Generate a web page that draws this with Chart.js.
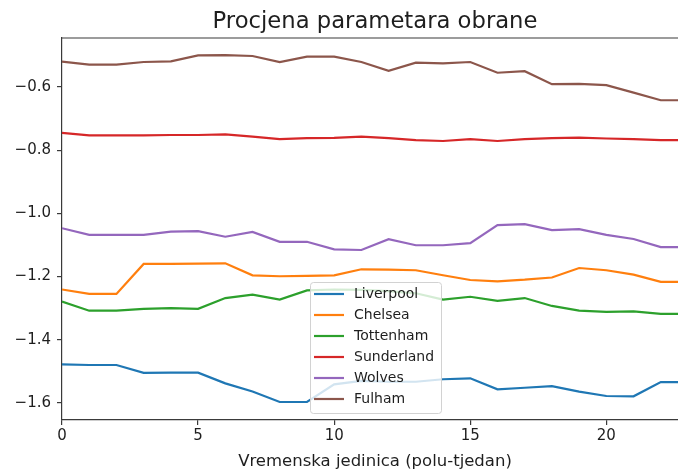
<!DOCTYPE html>
<html>
<head>
<meta charset="utf-8">
<script src="https://cdn.jsdelivr.net/npm/chart.js@4"></script>
<style>
  html, body { margin: 0; padding: 0; background: #fff; overflow: hidden; }
  #wrap { width: 678px; height: 474px; overflow: hidden; }
</style>
</head>
<body>
<div id="wrap"><canvas id="c" width="688" height="474"></canvas></div>
<script>
const timeUnits = [0,1,2,3,4,5,6,7,8,9,10,11,12,13,14,15,16,17,18,19,20,21,22,23];
const teamNames = ["Liverpool","Chelsea","Tottenham","Sunderland","Wolves","Fulham"];
const liverpool = [-1.478,-1.480,-1.480,-1.505,-1.504,-1.504,-1.538,-1.564,-1.597,-1.597,-1.541,-1.530,-1.533,-1.533,-1.525,-1.522,-1.557,-1.552,-1.547,-1.564,-1.578,-1.579,-1.534,-1.534];
const chelsea = [-1.241,-1.255,-1.255,-1.160,-1.160,-1.159,-1.158,-1.196,-1.199,-1.198,-1.196,-1.177,-1.178,-1.180,-1.196,-1.211,-1.215,-1.210,-1.203,-1.173,-1.180,-1.194,-1.217,-1.217];
const tottenham = [-1.279,-1.308,-1.308,-1.302,-1.300,-1.302,-1.268,-1.257,-1.273,-1.244,-1.241,-1.242,-1.246,-1.253,-1.273,-1.264,-1.277,-1.268,-1.293,-1.308,-1.312,-1.310,-1.318,-1.318];
const sunderland = [-0.745,-0.753,-0.753,-0.753,-0.752,-0.752,-0.750,-0.757,-0.765,-0.762,-0.761,-0.757,-0.762,-0.768,-0.771,-0.765,-0.771,-0.765,-0.762,-0.760,-0.763,-0.765,-0.768,-0.768];
const wolves = [-1.047,-1.068,-1.068,-1.068,-1.058,-1.056,-1.074,-1.059,-1.090,-1.090,-1.114,-1.116,-1.082,-1.101,-1.101,-1.094,-1.037,-1.034,-1.053,-1.050,-1.068,-1.081,-1.107,-1.107];
const fulham = [-0.520,-0.529,-0.529,-0.521,-0.519,-0.500,-0.499,-0.502,-0.521,-0.504,-0.504,-0.521,-0.549,-0.523,-0.525,-0.521,-0.555,-0.550,-0.591,-0.590,-0.594,-0.618,-0.642,-0.642];
const xTicks = [0,5,10,15,20];
const yTicks = [-1.6,-1.4,-1.2,-1.0,-0.8,-0.6];
const chartTitle = "Procjena parametara obrane";
const xTitle = "Vremenska jedinica (polu-tjedan)";

const seriesValues = [liverpool, chelsea, tottenham, sunderland, wolves, fulham];
const colors = ["#1f77b4","#ff7f0e","#2ca02c","#d62728","#9467bd","#8c564b"];
const FONT = "'DejaVu Sans', sans-serif";
const AXIS = "#3a3a3a";
const TEXT = "#1e1e1e";

const datasets = teamNames.map((name, i) => ({
  label: name,
  data: timeUnits.map((t, k) => ({ x: t, y: seriesValues[i][k] })),
  borderColor: colors[i],
  backgroundColor: colors[i],
  borderWidth: 2.2,
  pointRadius: 0,
  tension: 0,
  fill: false,
  order: teamNames.length - i
}));

const fmt = v => (v < 0 ? "\u2212" : "") + Math.abs(v).toFixed(1);

const framePlugin = {
  id: "frame",
  afterDatasetsDraw(chart) {
    const { ctx, chartArea: a } = chart;
    ctx.save();
    ctx.strokeStyle = AXIS;
    ctx.lineWidth = 1.2;
    ctx.beginPath();
    ctx.moveTo(a.left, a.top);
    ctx.lineTo(a.right, a.top);
    ctx.lineTo(a.right, a.bottom);
    ctx.stroke();
    // axes title, centred over the plotting area as in the original
    ctx.font = "22.7px " + FONT;
    ctx.fillStyle = TEXT;
    ctx.textAlign = "center";
    ctx.textBaseline = "middle";
    ctx.fillText(chartTitle, (a.left + a.right) / 2, a.top - 15.9);
    ctx.restore();
  }
};

const legendPlugin = {
  id: "boxLegend",
  afterDatasetsDraw(chart) {
    const { ctx, chartArea: a } = chart;
    const w = 131, h = 131;
    const left = Math.round((a.left + a.right) / 2 - w / 2), bottom = a.bottom - 7;
    const top = bottom - h;
    ctx.save();
    ctx.beginPath();
    if (ctx.roundRect) ctx.roundRect(left + 0.5, top + 0.5, w, h, 3); else ctx.rect(left + 0.5, top + 0.5, w, h);
    ctx.fillStyle = "rgba(255,255,255,0.8)";
    ctx.fill();
    ctx.strokeStyle = "#d2d2d2";
    ctx.lineWidth = 1;
    ctx.stroke();
    ctx.font = "14px " + FONT;
    ctx.textBaseline = "middle";
    ctx.textAlign = "left";
    chart.data.datasets.forEach((ds, i) => {
      const y = top + 12 + i * 21;
      ctx.strokeStyle = ds.borderColor;
      ctx.lineWidth = 2.2;
      ctx.beginPath();
      ctx.moveTo(left + 4, y);
      ctx.lineTo(left + 34, y);
      ctx.stroke();
      ctx.fillStyle = TEXT;
      ctx.fillText(ds.label, left + 44, y);
    });
    ctx.restore();
  }
};

new Chart(document.getElementById("c"), {
  type: "line",
  data: { datasets },
  options: {
    responsive: false,
    devicePixelRatio: 1,
    animation: false,
    events: [],
    layout: { padding: { top: 38, left: 0, right: 0, bottom: 0 } },
    plugins: {
      legend: { display: false },
      tooltip: { enabled: false },
      title: { display: false }
    },
    scales: {
      x: {
        type: "linear",
        min: 0,
        max: 23,
        afterFit(s) { s.height = 54; },
        afterBuildTicks(s) { s.ticks = xTicks.map(v => ({ value: v })); },
        ticks: { color: TEXT, font: { family: FONT, size: 15 }, padding: 2, callback: v => String(v), maxRotation: 0 },
        grid: { display: true, drawOnChartArea: false, drawTicks: true, tickLength: 5, color: AXIS, lineWidth: 1.2 },
        border: { display: true, color: AXIS, width: 1.2 },
        title: {
          display: true,
          text: xTitle,
          color: TEXT,
          font: { family: FONT, size: 16.5, lineHeight: 1.2 },
          padding: { top: 0, bottom: 2 }
        }
      },
      y: {
        type: "linear",
        min: -1.654,
        max: -0.445,
        afterFit(s) { s.width = 62; },
        afterBuildTicks(s) { s.ticks = yTicks.map(v => ({ value: v })); },
        ticks: { color: TEXT, font: { family: FONT, size: 15 }, padding: 6, callback: v => fmt(v) },
        grid: { display: true, drawOnChartArea: false, drawTicks: true, tickLength: 5, color: AXIS, lineWidth: 1.2 },
        border: { display: true, color: AXIS, width: 1.2 }
      }
    }
  },
  plugins: [framePlugin, legendPlugin]
});
</script>
</body>
</html>
